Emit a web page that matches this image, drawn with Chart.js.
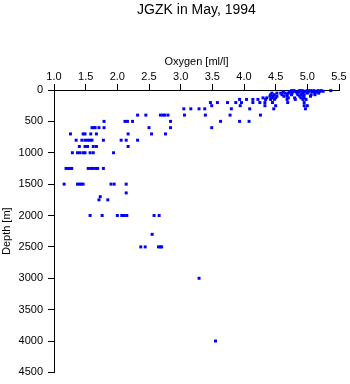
<!DOCTYPE html>
<html lang="en">
<head>
  <meta charset="UTF-8" />
  <title>JGZK in May, 1994</title>
  <script src="https://cdn.jsdelivr.net/npm/chart.js@4.4.0/dist/chart.umd.min.js"></script>
  <style>
body { margin: 0; background: #fff; }
#wrap { width: 350px; height: 384px; }
  </style>
</head>
<body>
  <div id="wrap"><canvas id="chart" width="350" height="384"></canvas></div>

  <script>
    // sampling depths [m] and the oxygen values [ml/l] measured at each depth
    const depths = [10, 20, 30, 50, 75, 100, 125, 150, 200, 250, 300, 400, 500, 600, 700, 800, 900, 1000,
                    1250, 1500, 1640, 1700, 1750, 2000, 2300, 2500, 3000, 4000];
    const oxygen = [
      [4.75, 4.79, 4.88, 4.92, 5.00, 5.05, 5.10, 5.17, 5.22, 5.37],
      [4.78, 4.86, 4.90, 4.97, 5.03, 5.13, 5.20, 5.25],
      [4.62, 4.72, 4.82, 4.87, 4.95, 5.01, 5.08, 5.15],
      [4.44, 4.52, 4.58, 4.65, 4.70, 4.76, 4.84, 4.92, 5.00, 5.12, 5.18],
      [4.42, 4.48, 4.60, 4.68, 4.75, 4.85, 4.90, 4.95, 5.06, 5.12],
      [4.41, 4.46, 4.52, 4.63, 4.68, 4.88, 4.94, 5.05],
      [4.30, 4.36, 4.44, 4.50, 4.70, 4.80, 4.90, 4.95],
      [3.93, 4.04, 4.14, 4.22, 4.34, 4.42, 4.48, 4.68, 4.81, 4.93, 4.98],
      [3.47, 3.58, 3.74, 3.87, 3.96, 4.14, 4.25, 4.33, 4.45, 4.69, 4.95],
      [3.49, 3.94, 4.33, 4.50, 4.95, 5.00],
      [3.05, 3.16, 3.29, 3.38, 3.80, 4.09, 4.47, 4.97],
      [2.32, 2.45, 2.68, 2.72, 2.75, 2.80, 3.06, 3.39, 3.78, 4.26],
      [1.79, 2.12, 2.16, 2.24, 2.84, 3.63, 3.93, 4.08],
      [1.60, 1.63, 1.65, 1.71, 1.79, 2.50, 2.84, 3.49],
      [1.26, 1.46, 1.49, 1.58, 1.67, 2.17, 2.54, 2.76],
      [1.35, 1.44, 1.49, 1.53, 1.57, 1.60, 1.78, 2.06, 2.14, 2.32],
      [1.40, 1.49, 1.53, 1.62, 1.67, 2.17],
      [1.29, 1.37, 1.41, 1.46, 1.49, 1.57, 1.62, 1.94],
      [1.19, 1.22, 1.25, 1.28, 1.54, 1.58, 1.62, 1.66, 1.69, 1.78],
      [1.16, 1.37, 1.40, 1.43, 1.46, 1.90, 1.95, 2.14],
      [2.14],
      [1.73],
      [1.71, 1.85],
      [1.57, 1.76, 2.00, 2.07, 2.11, 2.15, 2.58, 2.66],
      [2.55],
      [2.37, 2.44, 2.65, 2.68, 2.70],
      [3.29],
      [3.55]
    ];

    const points = [];
    depths.forEach((d, i) => oxygen[i].forEach(o => points.push({x: o, y: d})));

    const font = {family: "'Liberation Sans', Arial, sans-serif", size: 11};

    new Chart(document.getElementById('chart'), {
      type: 'scatter',
      data: {
        datasets: [{
          data: points,
          pointStyle: 'rect',
          radius: 2.1,
          borderWidth: 0,
          backgroundColor: '#0000ff',
          clip: false
        }]
      },
      options: {
        responsive: false,
        animation: false,
        events: [],
        layout: { padding: {left: 0, right: 11, top: 0, bottom: 9} },
        plugins: {
          legend: { display: false },
          tooltip: { enabled: false },
          title: {
            display: true,
            fullSize: false,   // centre over the plot, not the canvas
            text: 'JGZK in May, 1994',
            color: '#000',
            font: {family: font.family, size: 14, weight: 'normal'},
            padding: {top: 2, bottom: 0}
          }
        },
        scales: {
          x: {
            type: 'linear',
            position: 'top',
            min: 1, max: 5.5,
            afterFit: s => { s.height = 71.2; },
            ticks: { stepSize: 0.5, color: '#000', font: font, padding: 0, maxRotation: 0 },
            grid: { drawOnChartArea: false, drawTicks: true, tickLength: 6, color: '#000' },
            border: { display: true, color: '#000', width: 1 },
            title: { display: true, text: 'Oxygen [ml/l]', color: '#000', font: font, padding: {top: 36.6, bottom: 0} }
          },
          y: {
            type: 'linear',
            reverse: true,
            min: 0, max: 4500,
            afterFit: s => { s.width = 54; },
            ticks: { stepSize: 500, color: '#000', font: font, padding: 5, callback: v => String(v) },
            grid: { drawOnChartArea: false, drawTicks: true, tickLength: 6, color: '#000' },
            border: { display: true, color: '#000', width: 1 },
            title: { display: true, text: 'Depth [m]', color: '#000', font: font, padding: {top: 0, bottom: 0} }
          }
        }
      }
    });
  </script>
</body>
</html>
